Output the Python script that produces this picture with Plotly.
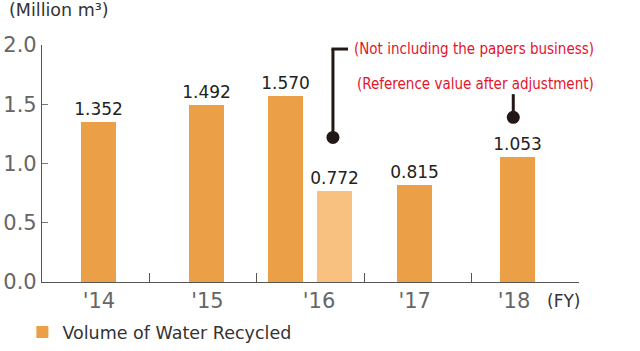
import plotly.graph_objects as go

# ---- data ----
categories = ["'14", "'15", "'16", "'17", "'18"]
bar_category = ["'14", "'15", "'16", "'16", "'17", "'18"]
values = [1.352, 1.492, 1.570, 0.772, 0.815, 1.053]
series_name = "Volume of Water Recycled"
y_ticks = [0.0, 0.5, 1.0, 1.5, 2.0]

# ---- style ----
ORANGE = "#EBA048"
LIGHT = "#F8C17F"
bar_colors = [ORANGE, ORANGE, ORANGE, LIGHT, ORANGE, ORANGE]
bar_shift = [0.03, 0.03, -0.235, 0.22, -0.03, -0.075]
label_shift = [0.03, 0.04, 0.08, -0.03, -0.105]
BAR_W = 0.326
RED = "#E3142C"
DARK = "#231815"

cat_index = {c: i for i, c in enumerate(categories)}
bar_x = [cat_index[c] + s for c, s in zip(bar_category, bar_shift)]

fig = go.Figure()
fig.add_trace(go.Bar(
    x=bar_x, y=values, width=BAR_W,
    marker=dict(color=bar_colors, line=dict(width=0)),
    text=[f"{v:.3f}" for v in values], textposition="outside",
    constraintext="none",
    textfont=dict(family="DejaVu Sans", size=17, color="#222222"),
    cliponaxis=False,
    name=series_name, showlegend=True, hoverinfo="skip",
))

fig.update_layout(
    width=640, height=351,
    margin=dict(l=42, r=61, t=45, b=69, autoexpand=False),
    paper_bgcolor="white", plot_bgcolor="white",
    showlegend=True,
    legend=dict(orientation="h", xref="container", yref="container",
                x=0.035, y=0.054, xanchor="left", yanchor="middle",
                font=dict(family="DejaVu Sans", size=17.5, color="#333333"),
                itemsizing="constant", bgcolor="rgba(0,0,0,0)"),
    xaxis=dict(
        range=[-0.5, len(categories) - 0.5],
        tickmode="array",
        tickvals=[i + s for i, s in enumerate(label_shift)],
        ticktext=categories,
        ticks="", showgrid=False, zeroline=False,
        showline=True, linecolor="#555555", linewidth=1.2,
        tickfont=dict(family="DejaVu Sans", size=21, color="#666666"),
        minor=dict(tickmode="array", tickvals=[i + 0.5 for i in range(len(categories) - 1)],
                   ticks="inside", ticklen=9, tickcolor="#555555", tickwidth=1, showgrid=False),
        fixedrange=True,
    ),
    yaxis=dict(
        range=[0, 2], tickmode="array", tickvals=y_ticks,
        ticktext=[f"{t:.1f}" for t in y_ticks],
        ticks="inside", ticklen=6, tickcolor="#777777", tickwidth=1,
        showgrid=False, zeroline=False,
        showline=True, linecolor="#555555", linewidth=1.2,
        tickfont=dict(family="DejaVu Sans", size=21, color="#666666"),
        fixedrange=True,
    ),
    bargap=0,
)

# unit title and FY
fig.add_annotation(xref="paper", yref="paper", x=-0.066, y=1.148, xanchor="left", yanchor="middle",
                   text="(Million m³)", showarrow=False,
                   font=dict(family="DejaVu Sans", size=17.5, color="#333333"))
fig.add_annotation(xref="paper", yref="paper", x=0.9715, y=-0.08, xanchor="center", yanchor="middle",
                   text="(FY)", showarrow=False,
                   font=dict(family="DejaVu Sans", size=17, color="#333333"))

# callouts
NARROW = "DejaVu Sans Condensed, Liberation Sans Narrow, sans-serif"
fig.add_annotation(xref="x", yref="y", x=2.386, y=1.966, xanchor="left", yanchor="middle",
                   text="(Not including the papers business)", showarrow=False,
                   font=dict(family=NARROW, size=15, color=RED))
fig.add_annotation(xref="x", yref="y", x=2.414, y=1.671, xanchor="left", yanchor="middle",
                   text="(Reference value after adjustment)", showarrow=False,
                   font=dict(family=NARROW, size=15, color=RED))

line = dict(color=DARK, width=3)
fig.add_shape(type="line", xref="x", yref="y", x0=2.209, x1=2.209, y0=1.22, y1=1.966, line=line)
fig.add_shape(type="line", xref="x", yref="y", x0=2.195, x1=2.349, y0=1.966, y1=1.966, line=line)
fig.add_shape(type="line", xref="x", yref="y", x0=3.888, x1=3.888, y0=1.39, y1=1.585, line=line)
for cx, cy in [(2.209, 1.22), (3.888, 1.39)]:
    fig.add_shape(type="circle", xref="x", yref="y", xsizemode="pixel", ysizemode="pixel",
                  xanchor=cx, yanchor=cy, x0=-6.5, x1=6.5, y0=-6.5, y1=6.5,
                  fillcolor=DARK, line=dict(width=0))

fig.write_html("out.html")
